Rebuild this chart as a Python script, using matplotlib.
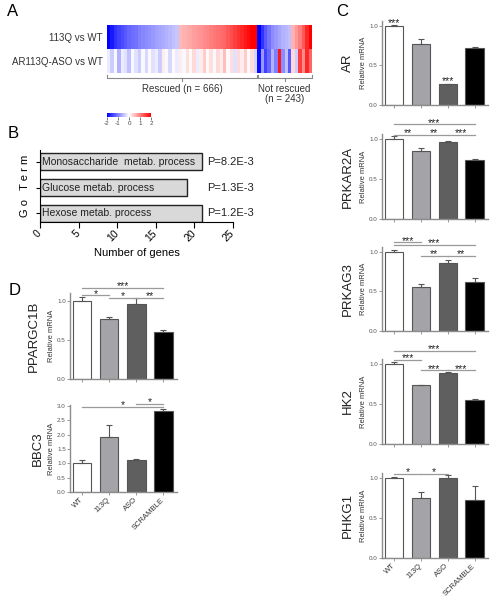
import matplotlib.pyplot as plt
import numpy as np
from matplotlib.transforms import blended_transform_factory

plt.rcParams['font.family'] = ['Liberation Sans', 'DejaVu Sans']

W, H = 498, 600

# ---- A: heatmap (values read column-block by column-block) ----
n_rescued, n_not = 666, 243
row1_rescued = [-2.0, -1.8, -1.6, -1.5, -1.4, -1.3, -1.2, -1.15, -1.1, -1.0, -0.95,
                -0.9, -0.85, -0.8, -0.75, -0.7, -0.65, -0.6, -0.55, -0.5, -0.45,
                0.55, 0.6, 0.65, 0.7, 0.75, 0.8, 0.85, 0.9, 0.95, 1.0, 1.05, 1.1,
                1.15, 1.2, 1.3, 1.4, 1.5, 1.6, 1.7, 1.8, 1.9, 2.0, 2.0]
row1_not = [-2.0, -1.6, -1.3, -1.1, -0.9, -0.8, -0.7, -0.6, -0.55, -0.5,
            0.6, 0.8, 1.0, 1.3, 1.7, 2.0]
row2_rescued = [-0.15, -0.4, -0.05, -0.6, -0.15, -0.25, -0.5, -0.05, -0.25, -0.4, -0.05,
                -0.3, 0.05, -0.25, -0.15, -0.4, 0.15, -0.05, -0.3, 0.05, -0.15,
                0.15, -0.05, 0.25, 0.05, 0.3, -0.15, 0.15, 0.4, 0.05, 0.25, -0.05, 0.3,
                0.15, 0.5, 0.05, 0.25, -0.25, 0.3, 0.15, 0.4, 0.05, 0.25, -0.3]
row2_not = [-1.9, -0.8, -1.5, -1.2, -0.6, -1.0, 1.8, -0.9, -0.5, -1.3,
            0.3, -0.4, 1.5, 0.9, 1.7, 1.2]
row_labels = ['113Q vs WT', 'AR113Q-ASO vs WT']

# ---- B: GO terms ----
go_terms = ['Monosaccharide  metab. process', 'Glucose metab. process', 'Hexose metab. process']
go_counts = [21, 19, 21]
go_pvals = ['P=8.2E-3', 'P=1.3E-3', 'P=1.2E-3']

# ---- C / D: qPCR ----
groups = ['WT', '113Q', 'ASO', 'SCRAMBLE']
bar_colors = ['white', '#a4a4a8', '#5f5f5f', 'black']

ar_mean = [1.0, 0.77, 0.26, 0.72]
ar_err = [0.01, 0.06, 0.01, 0.01]
prkar2a_mean = [1.0, 0.85, 0.96, 0.74]
prkar2a_err = [0.03, 0.04, 0.01, 0.01]
prkag3_mean = [1.0, 0.56, 0.86, 0.62]
prkag3_err = [0.02, 0.03, 0.03, 0.05]
hk2_mean = [1.0, 0.73, 0.89, 0.55]
hk2_err = [0.02, 0.01, 0.01, 0.01]
phkg1_mean = [1.0, 0.75, 1.0, 0.72]
phkg1_err = [0.01, 0.07, 0.03, 0.18]
ppargc1b_mean = [1.0, 0.77, 0.96, 0.60]
ppargc1b_err = [0.05, 0.02, 0.08, 0.03]
bbc3_mean = [1.0, 1.9, 1.11, 2.82]
bbc3_err = [0.12, 0.44, 0.04, 0.08]

# significance: (bar i, bar j, height, label)
ar_sig = [(0, 0, 1.02, '***'), (2, 2, 0.28, '***')]
prkar2a_sig = [(0, 3, 1.18, '***'), (0, 1, 1.05, '**'), (1, 2, 1.05, '**'), (2, 3, 1.05, '***')]
prkag3_sig = [(0, 1, 1.12, '***'), (0, 3, 1.09, '***'), (1, 2, 0.95, '**'), (2, 3, 0.95, '**')]
hk2_sig = [(0, 3, 1.16, '***'), (0, 1, 1.05, '***'), (1, 2, 0.92, '***'), (2, 3, 0.92, '***')]
phkg1_sig = [(0, 1, 1.05, '*'), (1, 2, 1.05, '*')]
ppargc1b_sig = [(0, 3, 1.17, '***'), (0, 1, 1.07, '*'), (1, 2, 1.04, '*'), (2, 3, 1.04, '**')]
bbc3_sig = [(0, 3, 2.96, '*'), (2, 3, 3.07, '*')]

fig = plt.figure(figsize=(W / 100, H / 100), dpi=100)


def add_ax(x0, x1, ytop, ybot):
    return fig.add_axes([x0 / W, 1 - ybot / H, (x1 - x0) / W, (ybot - ytop) / H])


def ftext(x, y, s, **kw):
    fig.text(x / W, 1 - y / H, s, **kw)


# panel letters
for let, (lx, ly) in zip('ABCD', [(13, 12), (13, 133), (342, 12), (15, 290)]):
    ftext(lx, ly, let, fontsize=12, va='center', ha='center')

# ---------------- A ----------------
axa = add_ax(107, 312, 25, 73)
xedges = np.concatenate([np.linspace(0, n_rescued, len(row1_rescued) + 1),
                         np.linspace(n_rescued, n_rescued + n_not, len(row1_not) + 1)[1:]])
heat = np.array([row1_rescued + row1_not, row2_rescued + row2_not])
mesh = axa.pcolormesh(xedges, [0, 1, 2], heat, cmap='bwr', vmin=-2, vmax=2)
axa.set_ylim(2, 0)
axa.set_xlim(0, n_rescued + n_not)
axa.set_xticks([])
axa.set_yticks([0.5, 1.5])
axa.set_yticklabels(row_labels, fontsize=7, color='#333333')
axa.tick_params(axis='y', length=0, pad=3)
for s in axa.spines.values():
    s.set_visible(False)

tr = blended_transform_factory(axa.transData, axa.transAxes)
for a, b in [(2, n_rescued - 2), (n_rescued + 2, n_rescued + n_not)]:
    m = (a + b) / 2
    axa.plot([a, a, b, b], [-0.05, -0.11, -0.11, -0.05], color='#888888', lw=0.8,
             transform=tr, clip_on=False)
    axa.plot([m, m], [-0.11, -0.17], color='#888888', lw=0.8, transform=tr, clip_on=False)
axa.text(n_rescued / 2, -0.34, 'Rescued (n = %d)' % n_rescued, transform=tr,
         ha='center', va='center', fontsize=7, color='#333333')
axa.text(n_rescued + n_not / 2, -0.34, 'Not rescued', transform=tr,
         ha='center', va='center', fontsize=7, color='#333333')
axa.text(n_rescued + n_not / 2, -0.55, '(n = %d)' % n_not, transform=tr,
         ha='center', va='center', fontsize=7, color='#333333')

cax = add_ax(107, 151, 113, 117)
cb = fig.colorbar(mesh, cax=cax, orientation='horizontal', ticks=[-2, -1, 0, 1, 2])
cb.outline.set_visible(False)
cax.set_xticklabels(['-2', '-1', '0', '1', '2'])
cax.tick_params(labelsize=4.5, length=2, pad=1, width=0.5, colors='#444444')

# ---------------- B ----------------
axb = add_ax(40, 233, 150, 222)
yb = np.arange(len(go_terms))[::-1]
axb.barh(yb, go_counts, height=0.65, color='#d9d9d9', edgecolor='#222222', linewidth=1.0)
for y, term, p in zip(yb, go_terms, go_pvals):
    axb.text(0.3, y, term, va='center', ha='left', fontsize=7.5, color='#222222')
    axb.text(21.6, y, p, va='center', ha='left', fontsize=8, color='#222222', clip_on=False)
axb.set_xlim(0, 25)
axb.set_ylim(-0.33, 2.46)
axb.set_yticks(yb)
axb.set_yticklabels([])
axb.set_xticks([0, 5, 10, 15, 20, 25])
axb.set_xticklabels(['0', '5', '10', '15', '20', '25'], rotation=45, ha='right',
                    va='center', rotation_mode='anchor', fontsize=7.5)
axb.tick_params(axis='x', length=4, pad=3, width=0.8)
axb.tick_params(axis='y', length=3, width=0.8)
axb.set_xlabel('Number of genes', fontsize=8, labelpad=3)
axb.set_ylabel('G o   T e r m', fontsize=8, labelpad=1)
axb.spines['top'].set_visible(False)
axb.spines['right'].set_visible(False)


# ---------------- C / D ----------------
def bar_panel(x0, x1, ytop, ybot, ymax, yticks, gene, means, errs, sigs, name_x,
              show_x=False):
    ax = add_ax(x0, x1, ytop, ybot)
    x = np.arange(len(groups))
    ax.bar(x, means, width=0.68, color=bar_colors, edgecolor='#555555', linewidth=0.8)
    ax.errorbar(x, means, yerr=[np.zeros(len(x)), errs], fmt='none', ecolor='#555555',
                elinewidth=0.8, capsize=2.5, capthick=0.8)
    ax.set_xlim(-0.45, 3.5)
    ax.set_ylim(0, ymax)
    ax.set_yticks(yticks)
    ax.set_yticklabels(['%.1f' % t for t in yticks])
    ax.set_xticks(x)
    if show_x:
        ax.set_xticklabels(groups, rotation=45, ha='right', va='center',
                           rotation_mode='anchor', fontsize=5.5, color='#333333')
    else:
        ax.set_xticklabels([])
    ax.tick_params(axis='y', labelsize=4.5, length=2, width=0.6, pad=1,
                   labelcolor='#555555', color='#888888')
    ax.tick_params(axis='x', length=2, width=0.6, pad=3, color='#888888')
    for s in ['top', 'right']:
        ax.spines[s].set_visible(False)
    for s in ['left', 'bottom']:
        ax.spines[s].set_color('#8c8c8c')
        ax.spines[s].set_linewidth(1.0)
    ax.set_ylabel('Relative mRNA', fontsize=5.5, labelpad=1.5, color='#333333')
    for i, j, y, lab in sigs:
        if i != j:
            ax.plot([i, j], [y, y], color='#9a9a9a', lw=0.9, clip_on=False)
        ax.annotate(lab, xy=((i + j) / 2, y), xytext=(0, -2.5), textcoords='offset points',
                    ha='center', va='bottom', fontsize=7.5, color='#222222',
                    annotation_clip=False)
    ftext(name_x, (ytop + ybot) / 2, gene, rotation=90, ha='center', va='center',
          fontsize=9.5, color='#222222')
    return ax


t1 = [0.0, 0.5, 1.0]
bar_panel(382, 488, 21, 105, 1.06, t1, 'AR', ar_mean, ar_err, ar_sig, 348)
bar_panel(382, 488, 134, 219, 1.06, t1, 'PRKAR2A', prkar2a_mean, prkar2a_err, prkar2a_sig, 348)
bar_panel(382, 488, 247, 331, 1.06, t1, 'PRKAG3', prkag3_mean, prkag3_err, prkag3_sig, 348)
bar_panel(382, 488, 359, 444, 1.06, t1, 'HK2', hk2_mean, hk2_err, hk2_sig, 348)
bar_panel(382, 488, 473, 558, 1.06, t1, 'PHKG1', phkg1_mean, phkg1_err, phkg1_sig, 348,
          show_x=True)

bar_panel(70, 177, 293, 379, 1.1, t1, 'PPARGC1B', ppargc1b_mean, ppargc1b_err,
          ppargc1b_sig, 34)
bar_panel(70, 177, 405, 492, 3.03, [0.0, 0.5, 1.0, 1.5, 2.0, 2.5, 3.0], 'BBC3',
          bbc3_mean, bbc3_err, bbc3_sig, 38, show_x=True)

fig.savefig('out.png', dpi=100)
